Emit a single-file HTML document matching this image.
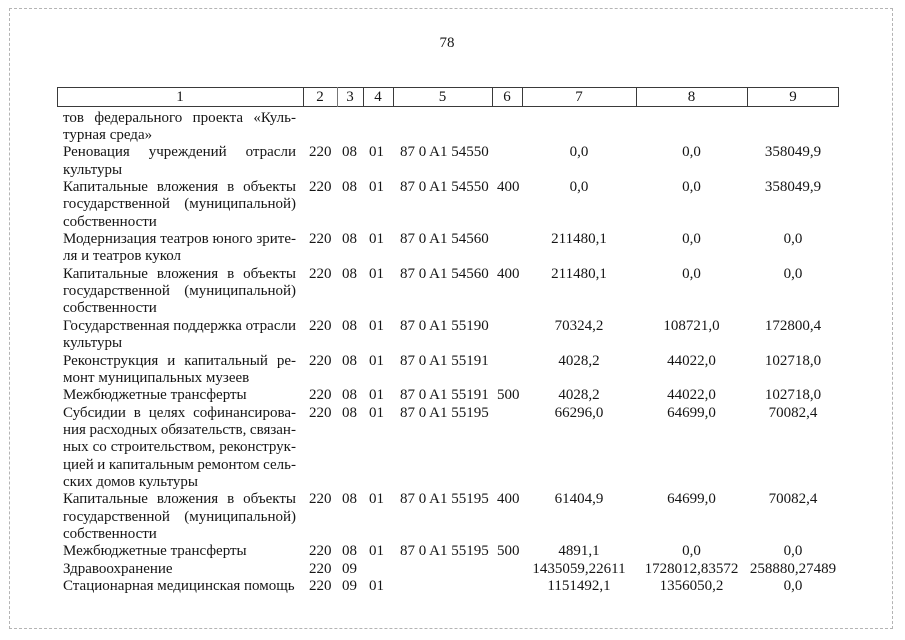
<!DOCTYPE html>
<html>
<head>
<meta charset="utf-8">
<style>
  html,body{margin:0;padding:0;background:#fff;}
  body{width:905px;height:640px;position:relative;overflow:hidden;
       font-family:"Liberation Serif","Noto Serif CJK SC",serif;font-size:15px;color:#151515;}
  .frame{position:absolute;left:9px;top:8px;width:884px;height:621px;border:1px dashed #b4b4b4;box-sizing:border-box;}
  .pn{position:absolute;left:432px;top:35px;width:30px;text-align:center;line-height:17px;}
  .hdr{position:absolute;left:57px;top:87px;width:782px;height:20px;border:1px solid #3a3a3a;box-sizing:border-box;}
  .vl{position:absolute;top:87px;height:20px;width:1px;background:#3a3a3a;}
  .hc{position:absolute;top:88px;line-height:18px;text-align:center;}
  .body{position:absolute;left:0;top:109.5px;width:905px;}
  .r{position:relative;height:17.37px;}
  .r span{position:absolute;top:0;line-height:17px;white-space:nowrap;}
  .r .d{left:63px;width:233px;}
  .r .j{display:flex;justify-content:space-between;}
  .r .j i{font-style:normal;white-space:nowrap;}
  .r .c2{left:309px;}
  .r .c3{left:342px;}
  .r .c4{left:369px;}
  .r .c5{left:400px;}
  .r .c6{left:497px;}
  .r .c7{left:522px;width:114px;text-align:center;}
  .r .c8{left:636px;width:111px;text-align:center;}
  .r .c9{left:747px;width:92px;text-align:center;}
</style>
</head>
<body>
<div class="frame"></div>
<div class="pn">78</div>

<div class="hdr"></div>
<div class="vl" style="left:303px"></div>
<div class="vl" style="left:337px;background:#777"></div>
<div class="vl" style="left:363px"></div>
<div class="vl" style="left:393px"></div>
<div class="vl" style="left:492px"></div>
<div class="vl" style="left:522px"></div>
<div class="vl" style="left:636px"></div>
<div class="vl" style="left:747px"></div>
<div class="hc" style="left:57px;width:246px">1</div>
<div class="hc" style="left:303px;width:34px">2</div>
<div class="hc" style="left:337px;width:26px">3</div>
<div class="hc" style="left:363px;width:30px">4</div>
<div class="hc" style="left:393px;width:99px">5</div>
<div class="hc" style="left:492px;width:30px">6</div>
<div class="hc" style="left:522px;width:114px">7</div>
<div class="hc" style="left:636px;width:111px">8</div>
<div class="hc" style="left:747px;width:92px">9</div>

<div class="body">
  <div class="r"><span class="d j"><i>тов</i><i>федерального</i><i>проекта</i><i>«Куль-</i></span></div>
  <div class="r"><span class="d">турная среда»</span></div>
  <div class="r"><span class="d j"><i>Реновация</i><i>учреждений</i><i>отрасли</i></span><span class="c2">220</span><span class="c3">08</span><span class="c4">01</span><span class="c5">87 0 A1 54550</span><span class="c7">0,0</span><span class="c8">0,0</span><span class="c9">358049,9</span></div>
  <div class="r"><span class="d">культуры</span></div>
  <div class="r"><span class="d j"><i>Капитальные</i><i>вложения</i><i>в</i><i>объекты</i></span><span class="c2">220</span><span class="c3">08</span><span class="c4">01</span><span class="c5">87 0 A1 54550</span><span class="c6">400</span><span class="c7">0,0</span><span class="c8">0,0</span><span class="c9">358049,9</span></div>
  <div class="r"><span class="d j"><i>государственной</i><i>(муниципальной)</i></span></div>
  <div class="r"><span class="d">собственности</span></div>
  <div class="r"><span class="d j"><i>Модернизация</i><i>театров</i><i>юного</i><i>зрите-</i></span><span class="c2">220</span><span class="c3">08</span><span class="c4">01</span><span class="c5">87 0 A1 54560</span><span class="c7">211480,1</span><span class="c8">0,0</span><span class="c9">0,0</span></div>
  <div class="r"><span class="d">ля и театров кукол</span></div>
  <div class="r"><span class="d j"><i>Капитальные</i><i>вложения</i><i>в</i><i>объекты</i></span><span class="c2">220</span><span class="c3">08</span><span class="c4">01</span><span class="c5">87 0 A1 54560</span><span class="c6">400</span><span class="c7">211480,1</span><span class="c8">0,0</span><span class="c9">0,0</span></div>
  <div class="r"><span class="d j"><i>государственной</i><i>(муниципальной)</i></span></div>
  <div class="r"><span class="d">собственности</span></div>
  <div class="r"><span class="d j"><i>Государственная</i><i>поддержка</i><i>отрасли</i></span><span class="c2">220</span><span class="c3">08</span><span class="c4">01</span><span class="c5">87 0 A1 55190</span><span class="c7">70324,2</span><span class="c8">108721,0</span><span class="c9">172800,4</span></div>
  <div class="r"><span class="d">культуры</span></div>
  <div class="r"><span class="d j"><i>Реконструкция</i><i>и</i><i>капитальный</i><i>ре-</i></span><span class="c2">220</span><span class="c3">08</span><span class="c4">01</span><span class="c5">87 0 A1 55191</span><span class="c7">4028,2</span><span class="c8">44022,0</span><span class="c9">102718,0</span></div>
  <div class="r"><span class="d">монт муниципальных музеев</span></div>
  <div class="r"><span class="d">Межбюджетные трансферты</span><span class="c2">220</span><span class="c3">08</span><span class="c4">01</span><span class="c5">87 0 A1 55191</span><span class="c6">500</span><span class="c7">4028,2</span><span class="c8">44022,0</span><span class="c9">102718,0</span></div>
  <div class="r"><span class="d j"><i>Субсидии</i><i>в</i><i>целях</i><i>софинансирова-</i></span><span class="c2">220</span><span class="c3">08</span><span class="c4">01</span><span class="c5">87 0 A1 55195</span><span class="c7">66296,0</span><span class="c8">64699,0</span><span class="c9">70082,4</span></div>
  <div class="r"><span class="d j"><i>ния</i><i>расходных</i><i>обязательств,</i><i>связан-</i></span></div>
  <div class="r"><span class="d j"><i>ных</i><i>со</i><i>строительством,</i><i>реконструк-</i></span></div>
  <div class="r"><span class="d j"><i>цией</i><i>и</i><i>капитальным</i><i>ремонтом</i><i>сель-</i></span></div>
  <div class="r"><span class="d">ских домов культуры</span></div>
  <div class="r"><span class="d j"><i>Капитальные</i><i>вложения</i><i>в</i><i>объекты</i></span><span class="c2">220</span><span class="c3">08</span><span class="c4">01</span><span class="c5">87 0 A1 55195</span><span class="c6">400</span><span class="c7">61404,9</span><span class="c8">64699,0</span><span class="c9">70082,4</span></div>
  <div class="r"><span class="d j"><i>государственной</i><i>(муниципальной)</i></span></div>
  <div class="r"><span class="d">собственности</span></div>
  <div class="r"><span class="d">Межбюджетные трансферты</span><span class="c2">220</span><span class="c3">08</span><span class="c4">01</span><span class="c5">87 0 A1 55195</span><span class="c6">500</span><span class="c7">4891,1</span><span class="c8">0,0</span><span class="c9">0,0</span></div>
  <div class="r"><span class="d">Здравоохранение</span><span class="c2">220</span><span class="c3">09</span><span class="c7">1435059,22611</span><span class="c8">1728012,83572</span><span class="c9">258880,27489</span></div>
  <div class="r"><span class="d">Стационарная медицинская помощь</span><span class="c2">220</span><span class="c3">09</span><span class="c4">01</span><span class="c7">1151492,1</span><span class="c8">1356050,2</span><span class="c9">0,0</span></div>
</div>
</body>
</html>
